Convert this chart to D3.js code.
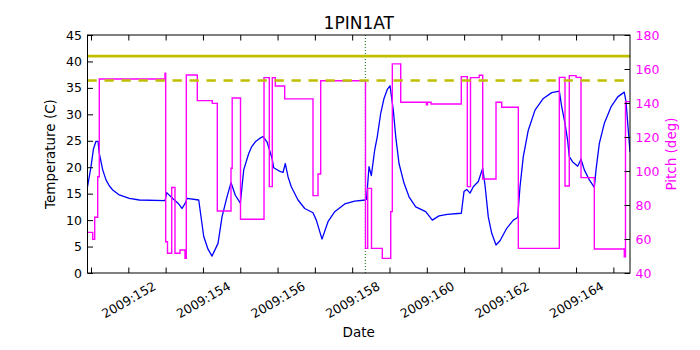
<!DOCTYPE html>
<html>
<head>
<meta charset="utf-8">
<script src="https://cdn.jsdelivr.net/npm/d3@7"></script>
<style>
  html, body { margin: 0; padding: 0; background: #fff; }
  svg { display: block; font-family: "DejaVu Sans", sans-serif; }
</style>
</head>
<body>
<div id="chart"></div>
<script>
// ---------------- data ----------------
const chartTitle = "1PIN1AT";
const xDomain = [150.906, 165.446];           // day of year 2009
const xTickDays = d3.range(151, 166, 1);
const xLabelDays = [152, 154, 156, 158, 160, 162, 164];
const tempTicks = d3.range(0, 46, 5);
const pitchTicks = d3.range(40, 181, 20);

// Temperature (C) – blue line
const tempDays = [150.906,151.000,151.067,151.134,151.188,151.222,151.314,151.402,151.493,151.582,151.758,152.027,152.295,152.983,153.029,153.190,153.332,153.439,153.527,153.573,153.887,154.021,154.136,154.243,154.404,154.511,154.645,154.752,154.868,155.002,155.093,155.227,155.309,155.404,155.511,155.610,155.717,155.851,155.897,156.066,156.146,156.208,156.280,156.368,156.548,156.728,156.950,157.039,157.191,157.352,157.532,157.800,158.068,158.352,158.384,158.451,158.513,158.604,158.673,158.765,158.853,158.941,159.014,159.102,159.167,159.255,159.389,159.523,159.703,159.971,160.059,160.147,160.327,160.550,160.925,160.997,161.069,161.158,161.246,161.380,161.498,161.560,161.648,161.740,161.855,161.962,162.142,162.319,162.436,162.498,162.586,162.720,162.900,163.123,163.348,163.552,163.616,163.704,163.776,163.819,163.910,164.044,164.133,164.222,164.356,164.490,164.535,164.624,164.758,164.937,165.117,165.293,165.339,165.446];
const tempValues = [16.3,20.1,23.5,24.9,24.9,22.6,19.5,17.6,16.45,15.7,14.75,14.1,13.8,13.67,15.2,14.1,13.2,12.2,13.2,14.1,13.8,6.9,4.5,3.2,5.6,10.6,14.4,17.1,14.7,13.2,19.5,22.6,23.9,24.8,25.4,25.8,24.8,21.7,19.9,19.2,19.0,20.7,18.2,16.3,13.8,12.2,11.4,10.0,6.4,9.7,11.6,13.05,13.6,13.8,13.9,20.1,18.4,23.3,25.8,30.2,33.0,34.7,35.4,30.8,25.8,20.7,17.0,14.4,12.5,11.6,10.8,10.0,10.8,11.1,11.3,15.4,15.8,15.1,16.3,17.3,19.8,16.6,10.6,7.5,5.3,6.1,8.45,10.0,10.5,16.3,22.0,27.0,30.8,33.0,34.1,34.4,31.4,28.3,25.0,22.0,21.0,20.2,21.5,19.5,17.6,16.2,19.5,24.5,28.3,31.4,33.3,34.2,32.4,22.9];

// Pitch (deg) – magenta step line (value holds until next change)
const pitchDays = [150.906,151.046,151.099,151.180,151.222,152.983,153.002,153.050,153.163,153.251,153.385,153.519,153.554,153.849,154.251,154.385,154.752,154.784,155.007,155.637,155.779,155.859,155.940,156.191,156.950,157.084,157.156,158.357,158.416,158.518,158.807,159.033,159.076,159.301,159.992,160.019,160.113,160.925,161.086,161.171,161.407,161.498,161.855,162.008,162.453,163.552,163.704,163.819,164.000,164.133,164.490,165.293,165.325,165.446];
const pitchValues = [63.9,59.8,72.8,96.6,154.1,157.5,58.4,51.6,90.3,51.6,53.5,48.6,156.5,141.4,139.8,76.5,101.6,142.9,71.6,154.9,90.8,154.9,150.0,142.4,85.5,98.2,153.1,54.5,89.8,54.5,48.6,76.1,163.0,140.4,139.0,140.4,139.4,155.5,90.8,154.9,156.3,95.3,140.4,137.5,54.5,155.1,91.2,156.1,155.1,96.1,54.1,49.6,140.8,140.8];

// Reference temperature limits
const limitSolid = 41.0;
const limitDashed = 36.4;
const markerDay = 158.352;

// ---------------- layout ----------------
const W = 700, H = 350;
const L = 87.5, R = 630, T = 35, B = 273;
const tickLen = 5.5, pad = 5.6;
const tickFont = 12.5;

const svg = d3.select("#chart").append("svg").attr("width", W).attr("height", H);

const x = d3.scaleLinear().domain(xDomain).range([L, R]);
const yT = d3.scaleLinear().domain([0, 45]).range([B, T]);
const yP = d3.scaleLinear().domain([40, 180]).range([B, T]);

svg.append("defs").append("clipPath").attr("id", "clip")
  .append("rect").attr("x", L).attr("y", T).attr("width", R - L).attr("height", B - T);

const plot = svg.append("g").attr("clip-path", "url(#clip)");

// temperature line
const tempData = tempDays.map((d, i) => [d, tempValues[i]]);
plot.append("path")
  .attr("d", d3.line().x(d => x(d[0])).y(d => yT(d[1]))(tempData))
  .attr("fill", "none").attr("stroke", "#0000ff").attr("stroke-width", 1.3)
  .attr("stroke-linejoin", "round");

// dotted marker line
plot.append("line")
  .attr("x1", x(markerDay)).attr("x2", x(markerDay))
  .attr("y1", T).attr("y2", B)
  .attr("stroke", "#006400").attr("stroke-width", 1).attr("stroke-dasharray", "1,2");

// pitch step line
const pitchData = pitchDays.map((d, i) => [d, pitchValues[i]]);
plot.append("path")
  .attr("d", d3.line().curve(d3.curveStepAfter).x(d => x(d[0])).y(d => yP(d[1]))(pitchData))
  .attr("fill", "none").attr("stroke", "#ff00ff").attr("stroke-width", 1.4);

// limit lines
plot.append("line")
  .attr("x1", L).attr("x2", R).attr("y1", yT(limitSolid)).attr("y2", yT(limitSolid))
  .attr("stroke", "#bfbf00").attr("stroke-width", 2.6);
plot.append("line")
  .attr("x1", L).attr("x2", R).attr("y1", yT(limitDashed)).attr("y2", yT(limitDashed))
  .attr("stroke", "#bfbf00").attr("stroke-width", 2.6).attr("stroke-dasharray", "9.3,7.7");

// ---------------- axes ----------------
function styleAxis(g) {
  g.select(".domain").remove();
  g.selectAll(".tick line").attr("stroke", "#000").attr("stroke-width", 1);
  g.selectAll("text").attr("font-family", "DejaVu Sans, sans-serif").attr("font-size", tickFont);
}

// bottom
const gx = svg.append("g").attr("transform", `translate(0,${B})`)
  .call(d3.axisBottom(x).tickValues(xTickDays)
    .tickFormat(d => xLabelDays.includes(d) ? "2009:" + d : "")
    .tickSizeInner(-tickLen).tickSizeOuter(0).tickPadding(pad))
  .call(styleAxis);
gx.selectAll(".tick text").each(function() {
  const t = d3.select(this);
  const w = this.getComputedTextLength();
  const h = tickFont * 1.16;
  const bh = w * 0.5 + h * Math.cos(Math.PI / 6);
  t.attr("y", null).attr("dy", "0.35em").attr("text-anchor", "middle")
   .attr("fill", "#000")
   .attr("transform", `translate(0,${pad + bh / 2}) rotate(-30)`);
});

// top
svg.append("g").attr("transform", `translate(0,${T})`)
  .call(d3.axisTop(x).tickValues(xTickDays).tickFormat("")
    .tickSizeInner(-tickLen).tickSizeOuter(0))
  .call(styleAxis);

// left (temperature)
svg.append("g").attr("transform", `translate(${L},0)`)
  .call(d3.axisLeft(yT).tickValues(tempTicks).tickFormat(d3.format("d"))
    .tickSizeInner(-tickLen).tickSizeOuter(0).tickPadding(pad))
  .call(styleAxis)
  .call(g => g.selectAll("text").attr("fill", "#000"));

// right (pitch)
svg.append("g").attr("transform", `translate(${R},0)`)
  .call(d3.axisRight(yP).tickValues(pitchTicks).tickFormat(d3.format("d"))
    .tickSizeInner(-tickLen).tickSizeOuter(0).tickPadding(pad))
  .call(styleAxis)
  .call(g => g.selectAll("text").attr("fill", "#ff00ff"));

// frame
svg.append("rect").attr("x", L).attr("y", T).attr("width", R - L).attr("height", B - T)
  .attr("fill", "none").attr("stroke", "#000").attr("stroke-width", 1);

// ---------------- labels ----------------
svg.append("text").attr("x", (L + R) / 2).attr("y", 29)
  .attr("text-anchor", "middle").attr("font-size", 17).attr("fill", "#000")
  .text(chartTitle);

svg.append("text").attr("x", (L + R) / 2).attr("y", 337)
  .attr("text-anchor", "middle").attr("font-size", 13.5).attr("fill", "#000")
  .text("Date");

svg.append("text")
  .attr("transform", `translate(55,${(T + B) / 2}) rotate(-90)`)
  .attr("text-anchor", "middle").attr("font-size", 13.5).attr("fill", "#000")
  .text("Temperature (C)");

svg.append("text")
  .attr("transform", `translate(676,${(T + B) / 2}) rotate(-90)`)
  .attr("text-anchor", "middle").attr("font-size", 13.5).attr("fill", "#ff00ff")
  .text("Pitch (deg)");
</script>
</body>
</html>
